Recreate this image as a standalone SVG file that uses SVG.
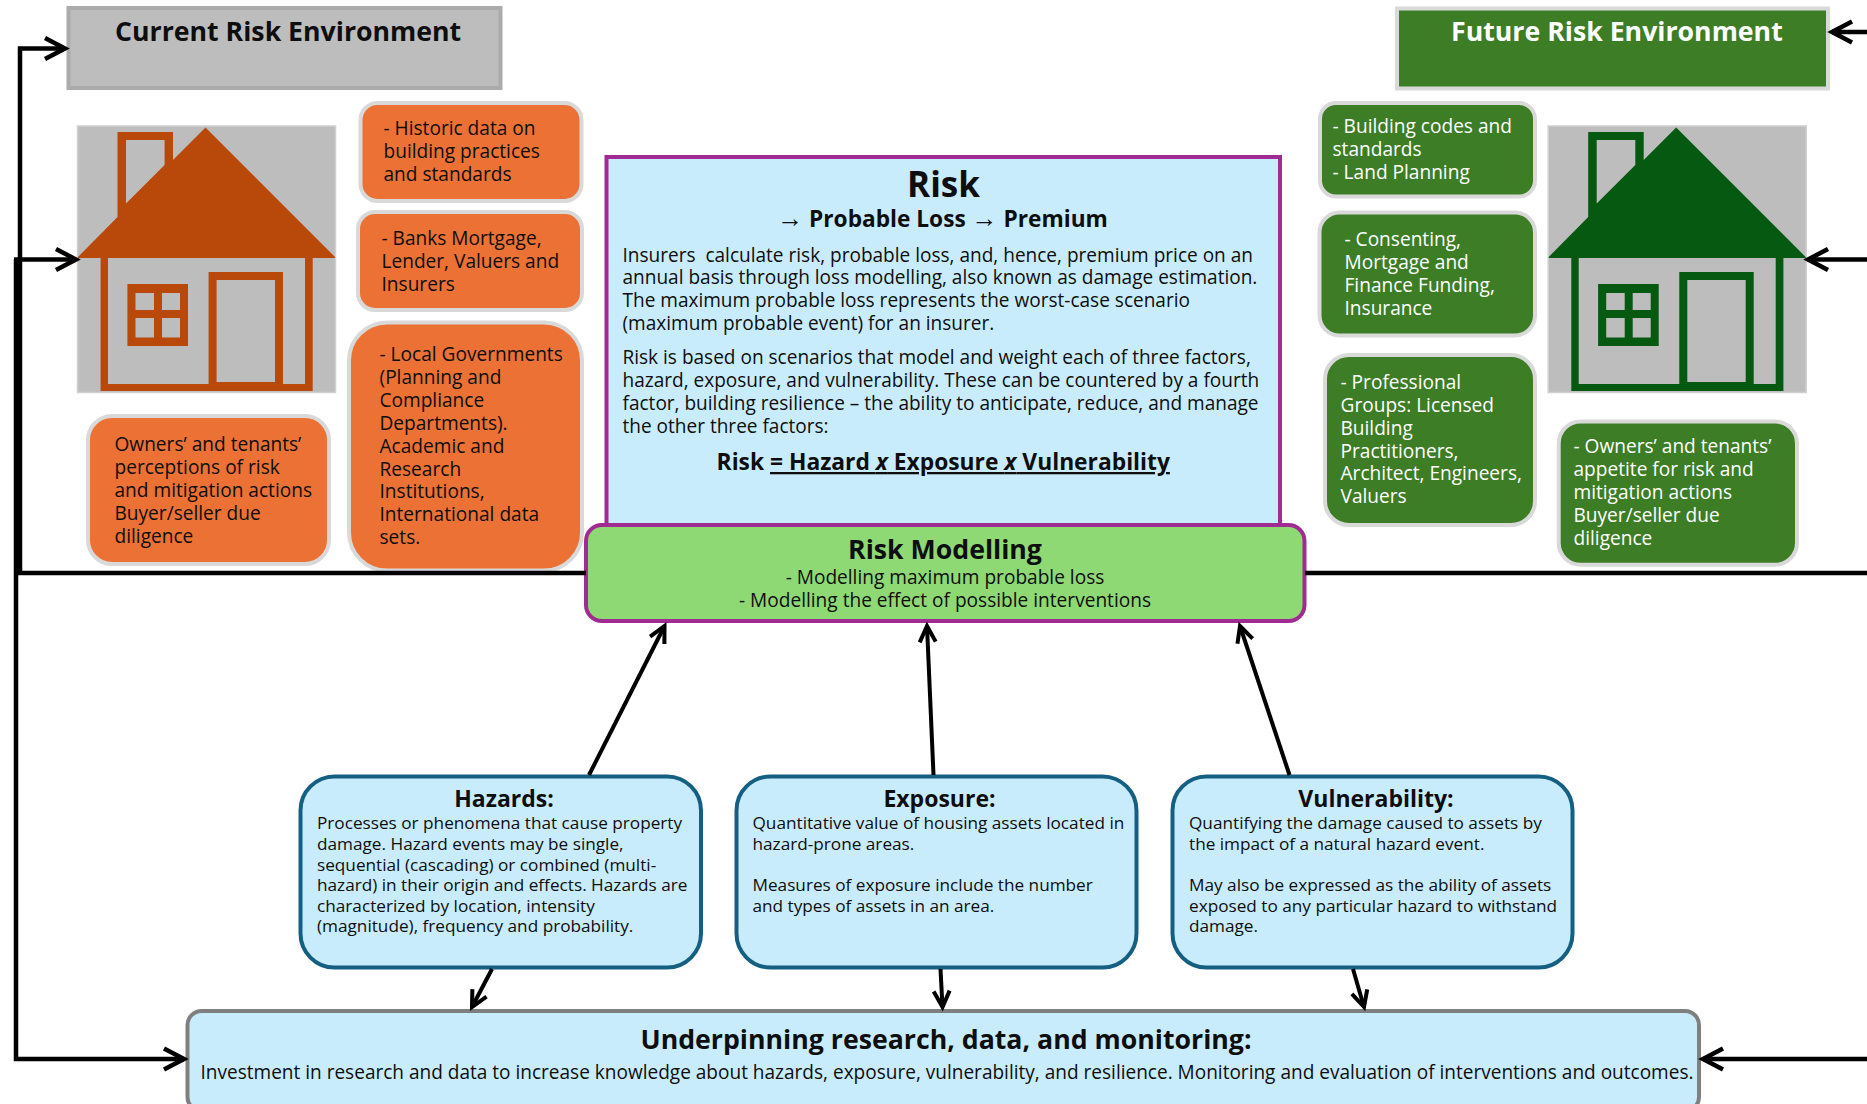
<svg xmlns="http://www.w3.org/2000/svg" xmlns:xlink="http://www.w3.org/1999/xlink" width="1867" height="1104" viewBox="0 0 1867 1104">
<style>
text{font-family:"Open Sans","Noto Sans","Liberation Sans",sans-serif;fill:#0e0e0e}
.o{fill:#eb7134;stroke:#d9d9d9;stroke-width:4}
.g{fill:#3c7d26;stroke:#d9d9d9;stroke-width:4}
.m{font-size:19.1px}
.w{fill:#fff}
.p{font-size:19.05px}
.s{font-size:17.2px}
.h{font-size:23px;font-weight:700;text-anchor:middle}
.b{fill:#c9ecfd;stroke:#156082;stroke-width:4}
.c{fill:none;stroke:#000;stroke-width:4.5}
.t{font-size:26.7px;font-weight:700}
.hb{fill:#bdbdbd;stroke:#d0d0d0;stroke-width:1.5}
.ar{font-family:"Liberation Sans",sans-serif;font-weight:400;font-size:26px}
</style>
<defs>
<marker id="ah" markerUnits="userSpaceOnUse" markerWidth="32" markerHeight="32" refX="26" refY="16" orient="auto"><path d="M6 5.500 26 16 6 26.500" fill="none" stroke="#000" stroke-width="4.500"/></marker>
<marker id="as" markerUnits="userSpaceOnUse" markerWidth="28" markerHeight="28" refX="22" refY="14" orient="auto"><path d="M6 6 22 14 6 22" fill="none" stroke="#000" stroke-width="4"/></marker>
<g id="house"><rect class="hb" x="77.500" y="126" width="258" height="266.500"/><path fill-rule="evenodd" d="M117.500 132H173V160L205.500 127.500 335 257V258H312.700V391H100.600V258H78V257L117.500 217ZM126 140V203.600L164.600 165V140ZM108 258V384H208.600V272H283V384H305V258ZM216.600 280V382H275V280ZM127.400 284V346H188V284ZM135.500 293V310H154V293ZM162 293V310H180V293ZM135.500 318V337.500H154V318ZM162 318V337.500H180V318Z"/></g>
</defs>
<g id="current-title"><rect x="68.500" y="8" width="432" height="80" fill="#bdbdbd" stroke="#ababab" stroke-width="4"/><text class="t" x="115" y="40.600">Current Risk Environment</text></g>
<g id="future-title"><rect x="1397" y="8.500" width="431" height="80" fill="#3c7d26" stroke="#d9d9d9" stroke-width="4"/><text class="t w" x="1451" y="40.600">Future Risk Environment</text></g>
<g id="current-house" fill="#b9490a"><use xlink:href="#house" href="#house"/></g>
<g id="future-house" fill="#065911"><use xlink:href="#house" href="#house" x="1470.700"/></g>
<g id="c1"><rect class="o" x="360.500" y="103" width="221" height="98" rx="17"/><text class="m"><tspan x="383.500" y="134.700">- Historic data on</tspan><tspan x="383.500" y="158">building practices</tspan><tspan x="383.500" y="181">and standards</tspan></text></g>
<g id="c2"><rect class="o" x="358" y="212" width="224" height="98" rx="17"/><text class="m"><tspan x="381.500" y="245">- Banks Mortgage,</tspan><tspan x="381.500" y="268">Lender, Valuers and</tspan><tspan x="381.500" y="291">Insurers</tspan></text></g>
<g id="c3"><rect class="o" x="349" y="322.500" width="233" height="248" rx="38"/><text class="m"><tspan x="379.500" y="361">- Local Governments</tspan><tspan x="379.500" y="384">(Planning and</tspan><tspan x="379.500" y="407">Compliance</tspan><tspan x="379.500" y="430">Departments).</tspan><tspan x="379.500" y="453">Academic and</tspan><tspan x="379.500" y="476">Research</tspan><tspan x="379.500" y="498">Institutions,</tspan><tspan x="379.500" y="521">International data</tspan><tspan x="379.500" y="544">sets.</tspan></text></g>
<g id="c4"><rect class="o" x="88" y="416" width="241" height="148" rx="24"/><text class="m"><tspan x="114.500" y="451">Owners’ and tenants’</tspan><tspan x="114.500" y="474">perceptions of risk</tspan><tspan x="114.500" y="497">and mitigation actions</tspan><tspan x="114.500" y="520">Buyer/seller due</tspan><tspan x="114.500" y="543">diligence</tspan></text></g>
<g id="f1"><rect class="g" x="1320" y="103" width="215" height="93.500" rx="16"/><text class="m w"><tspan class="w" x="1332.500" y="133">- Building codes and</tspan><tspan class="w" x="1332.500" y="156">standards</tspan><tspan class="w" x="1332.500" y="179">- Land Planning</tspan></text></g>
<g id="f2"><rect class="g" x="1319.500" y="212.500" width="215.500" height="123" rx="20"/><text class="m w"><tspan x="1344.500" y="245.700">- Consenting,</tspan><tspan x="1344.500" y="268.700">Mortgage and</tspan><tspan x="1344.500" y="291.600">Finance Funding,</tspan><tspan x="1344.500" y="314.600">Insurance</tspan></text></g>
<g id="f3"><rect class="g" x="1325" y="355" width="210" height="170" rx="24"/><text class="m w"><tspan x="1340.500" y="388.500">- Professional</tspan><tspan x="1340.500" y="411.500">Groups: Licensed</tspan><tspan x="1340.500" y="434.500">Building</tspan><tspan x="1340.500" y="457.500">Practitioners,</tspan><tspan x="1340.500" y="480">Architect, Engineers,</tspan><tspan x="1340.500" y="503">Valuers</tspan></text></g>
<g id="f4"><rect class="g" x="1558.700" y="421.500" width="238.300" height="143.300" rx="22"/><text class="m w"><tspan x="1573.500" y="452.500">- Owners’ and tenants’</tspan><tspan x="1573.500" y="475.500">appetite for risk and</tspan><tspan x="1573.500" y="498.500">mitigation actions</tspan><tspan x="1573.500" y="521.600">Buyer/seller due</tspan><tspan x="1573.500" y="544.600">diligence</tspan></text></g>
<g id="risk"><rect x="606.500" y="157" width="673.500" height="380" fill="#c9ecfd" stroke="#a02b93" stroke-width="4"/>
<text x="943.500" y="197.200" text-anchor="middle" font-size="35" font-weight="700">Risk</text>
<text x="942.500" y="227.300" text-anchor="middle" font-size="22.700" font-weight="700"><tspan class="ar">→</tspan> Probable Loss <tspan class="ar">→</tspan> Premium</text>
<text class="p" xml:space="preserve"><tspan x="622.500" y="262.300">Insurers  calculate risk, probable loss, and, hence, premium price on an</tspan><tspan x="622.500" y="284.300">annual basis through loss modelling, also known as damage estimation.</tspan><tspan x="622.500" y="307.300">The maximum probable loss represents the worst-case scenario</tspan><tspan x="622.500" y="330">(maximum probable event) for an insurer.</tspan><tspan x="622.500" y="364.300">Risk is based on scenarios that model and weight each of three factors,</tspan><tspan x="622.500" y="387.300">hazard, exposure, and vulnerability. These can be countered by a fourth</tspan><tspan x="622.500" y="410.300">factor, building resilience – the ability to anticipate, reduce, and manage</tspan><tspan x="622.500" y="433.300">the other three factors:</tspan></text>
<text x="716.600" y="470" font-size="22.800" font-weight="700">Risk <tspan text-decoration="underline">= Hazard <tspan font-style="italic">x</tspan> Exposure <tspan font-style="italic">x</tspan> Vulnerability</tspan></text></g>
<g id="modelling"><rect x="586" y="525" width="718.500" height="96" rx="16" fill="#8ed973" stroke="#a02b93" stroke-width="4"/>
<text x="945" y="559" text-anchor="middle" font-size="26.700" font-weight="700">Risk Modelling</text>
<text x="945" y="584" text-anchor="middle" font-size="19.100">- Modelling maximum probable loss</text>
<text x="945" y="607" text-anchor="middle" font-size="19.100">- Modelling the effect of possible interventions</text></g>
<g id="hazards"><rect class="b" x="300.500" y="776.500" width="400.500" height="191" rx="34"/><text class="h" x="504" y="807">Hazards:</text><text class="s"><tspan x="317" y="829">Processes or phenomena that cause property</tspan><tspan x="317" y="850">damage. Hazard events may be single,</tspan><tspan x="317" y="871">sequential (cascading) or combined (multi-</tspan><tspan x="317" y="891">hazard) in their origin and effects. Hazards are</tspan><tspan x="317" y="912">characterized by location, intensity</tspan><tspan x="317" y="932">(magnitude), frequency and probability.</tspan></text></g>
<g id="exposure"><rect class="b" x="736.500" y="776.500" width="400" height="191" rx="34"/><text class="h" x="939.500" y="807">Exposure:</text><text class="s"><tspan x="752.500" y="829">Quantitative value of housing assets located in</tspan><tspan x="752.500" y="850">hazard-prone areas.</tspan><tspan x="752.500" y="891">Measures of exposure include the number</tspan><tspan x="752.500" y="912">and types of assets in an area.</tspan></text></g>
<g id="vulnerability"><rect class="b" x="1172.500" y="776.500" width="400" height="191" rx="34"/><text class="h" x="1376" y="807">Vulnerability:</text><text class="s"><tspan x="1189" y="829">Quantifying the damage caused to assets by</tspan><tspan x="1189" y="850">the impact of a natural hazard event.</tspan><tspan x="1189" y="891">May also be expressed as the ability of assets</tspan><tspan x="1189" y="912">exposed to any particular hazard to withstand</tspan><tspan x="1189" y="932">damage.</tspan></text></g>
<g id="underpinning"><rect x="187.500" y="1011" width="1511.500" height="100" rx="14" fill="#c9ecfd" stroke="#7f7f7f" stroke-width="4"/>
<text x="946" y="1049" text-anchor="middle" font-size="26.700" font-weight="700">Underpinning research, data, and monitoring:</text>
<text x="200.500" y="1079" font-size="19.050">Investment in research and data to increase knowledge about hazards, exposure, vulnerability, and resilience. Monitoring and evaluation of interventions and outcomes.</text></g>
<g id="connectors">
<path class="c" d="M586 573H20V48.500H65" marker-end="url(#ah)"/>
<path class="c" d="M14 259.500H76" marker-end="url(#ah)"/>
<path class="c" d="M16 259.500V1059H184" marker-end="url(#ah)"/>
<path class="c" d="M1305 573H1867"/>
<path class="c" d="M1867 32H1832" marker-end="url(#ah)"/>
<path class="c" d="M1867 259.500H1808" marker-end="url(#ah)"/>
<path class="c" d="M1867 1059H1703" marker-end="url(#ah)"/>
<path class="c" style="stroke-width:4" d="M589 775 664.500 626" marker-end="url(#as)"/>
<path class="c" style="stroke-width:4" d="M933.500 775 927 626" marker-end="url(#as)"/>
<path class="c" style="stroke-width:4" d="M1289.500 775 1240 626" marker-end="url(#as)"/>
<path class="c" style="stroke-width:4" d="M492 969 472 1007" marker-end="url(#as)"/>
<path class="c" style="stroke-width:4" d="M940.500 969 942.500 1007" marker-end="url(#as)"/>
<path class="c" style="stroke-width:4" d="M1353 969 1364 1007" marker-end="url(#as)"/>
</g>
</svg>
